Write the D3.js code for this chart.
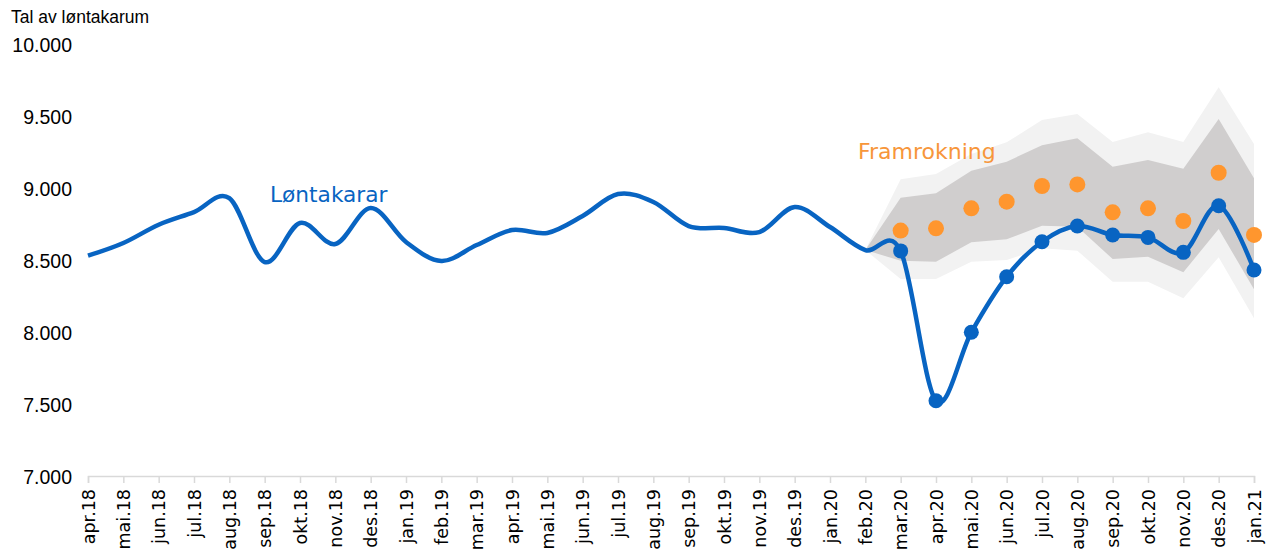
<!DOCTYPE html>
<html>
<head>
<meta charset="utf-8">
<script src="https://cdn.jsdelivr.net/npm/d3@7"></script>
<style>
  html, body { margin: 0; padding: 0; background: #fff; }
  svg { display: block; }
</style>
</head>
<body>
<svg id="chart" width="1276" height="550"></svg>
<script>
// Months on the category axis
const months = [
  "apr.18","mai.18","jun.18","jul.18","aug.18","sep.18","okt.18","nov.18","des.18",
  "jan.19","feb.19","mar.19","apr.19","mai.19","jun.19","jul.19","aug.19","sep.19",
  "okt.19","nov.19","des.19","jan.20","feb.20","mar.20","apr.20","mai.20","jun.20",
  "jul.20","aug.20","sep.20","okt.20","nov.20","des.20","jan.21"
];

// Number of wage earners (Løntakarar), one value per month
const wageEarners = [
  8530, 8618, 8745, 8833, 8930, 8486, 8757, 8611, 8861,
  8625, 8493, 8604, 8708, 8688, 8806, 8958, 8903, 8736,
  8722, 8694, 8868, 8729, 8569, 8563, 7523, 7998, 8384,
  8627, 8736, 8674, 8657, 8553, 8877, 8431
];

// Months from which the actual values are marked with dots
const markedMonths = [
  "mar.20","apr.20","mai.20","jun.20","jul.20","aug.20",
  "sep.20","okt.20","nov.20","des.20","jan.21"
];

// Projection (Framrokning), mar.20 – jan.21
const projMonths = markedMonths;
const projection = [8704, 8720, 8859, 8905, 9014, 9025, 8831, 8859, 8771, 9106, 8674];

// Uncertainty bands, feb.20 – jan.21 (starting from the last observed value)
const bandMonths = ["feb.20"].concat(projMonths);
const innerLow  = [8569, 8495, 8488, 8623, 8644, 8738, 8731, 8507, 8523, 8415, 8715, 8297];
const innerHigh = [8569, 8933, 8963, 9120, 9183, 9297, 9345, 9148, 9194, 9134, 9479, 9067];
const outerLow  = [8569, 8368, 8368, 8488, 8500, 8581, 8565, 8349, 8349, 8234, 8519, 8095];
const outerHigh = [8569, 9060, 9097, 9236, 9317, 9472, 9514, 9319, 9387, 9319, 9699, 9306];

// Value axis ticks
const yTicks = [7000, 7500, 8000, 8500, 9000, 9500, 10000];

const BLUE = "#0864C2";
const ORANGE = "#FF962E";

const svg = d3.select("#chart");

const x = d3.scalePoint().domain(months).range([88, 1254]);
const y = d3.scaleLinear().domain([7000, 10000]).range([476, 44]);

const nb = d3.formatLocale({ decimal: ",", thousands: ".", grouping: [3], currency: ["", ""] });
const fmt = nb.format(",.0f");

// Bands
const bandData = (lo, hi) => bandMonths.map((m, i) => ({ m, lo: lo[i], hi: hi[i] }));
const band = d3.area().x(d => x(d.m)).y0(d => y(d.lo)).y1(d => y(d.hi));

svg.append("path").datum(bandData(outerLow, outerHigh))
  .attr("d", band).attr("fill", "#F2F2F2");
svg.append("path").datum(bandData(innerLow, innerHigh))
  .attr("d", band).attr("fill", "#D0CECE");

// Category axis
const xAxis = svg.append("g")
  .attr("transform", "translate(0,476)")
  .call(d3.axisBottom(x).tickSize(7).tickPadding(6));
xAxis.select(".domain").attr("stroke", "#D9D9D9").attr("stroke-width", 1.5);
xAxis.selectAll(".tick line").attr("stroke", "#D9D9D9").attr("stroke-width", 1.5);
xAxis.selectAll(".tick text")
  .attr("font-family", "DejaVu Sans, Verdana, sans-serif")
  .attr("font-size", 17.5)
  .attr("fill", "#000")
  .attr("transform", "rotate(-90)")
  .attr("text-anchor", "end")
  .attr("x", -13)
  .attr("y", 0)
  .attr("dy", "0.35em");

// Value axis
const yAxis = svg.append("g")
  .attr("transform", "translate(88,0)")
  .call(d3.axisLeft(y).tickValues(yTicks).tickFormat(fmt).tickSize(0).tickPadding(16));
yAxis.select(".domain").remove();
yAxis.selectAll(".tick text")
  .attr("font-family", "Liberation Sans, Arial, sans-serif")
  .attr("font-size", 19.5)
  .attr("fill", "#000")
  .attr("dy", "0.36em");

// Axis title
svg.append("text")
  .attr("x", 11).attr("y", 23)
  .attr("font-family", "Liberation Sans, Arial, sans-serif")
  .attr("font-size", 17.5)
  .attr("fill", "#000")
  .text("Tal av løntakarum");

// Projection dots
svg.append("g").selectAll("circle")
  .data(projMonths.map((m, i) => ({ m, v: projection[i] })))
  .join("circle")
  .attr("cx", d => x(d.m)).attr("cy", d => y(d.v))
  .attr("r", 8).attr("fill", ORANGE);

// Wage earner line
const series = months.map((m, i) => ({ m, v: wageEarners[i] }));
svg.append("path").datum(series)
  .attr("d", d3.line().x(d => x(d.m)).y(d => y(d.v)).curve(d3.curveCardinal.tension(0)))
  .attr("fill", "none")
  .attr("stroke", BLUE)
  .attr("stroke-width", 4.5)
  .attr("stroke-linejoin", "round");

svg.append("g").selectAll("circle")
  .data(series.filter(d => markedMonths.includes(d.m)))
  .join("circle")
  .attr("cx", d => x(d.m)).attr("cy", d => y(d.v))
  .attr("r", 7.5).attr("fill", BLUE);

// Series labels
svg.append("text")
  .attr("x", 270).attr("y", 201.5)
  .attr("font-family", "DejaVu Sans, Verdana, sans-serif")
  .attr("font-size", 21.7)
  .attr("fill", BLUE)
  .text("Løntakarar");

svg.append("text")
  .attr("x", 858).attr("y", 158.5)
  .attr("font-family", "DejaVu Sans, Verdana, sans-serif")
  .attr("font-size", 22)
  .attr("fill", "#F7963A")
  .text("Framrokning");
</script>
</body>
</html>
